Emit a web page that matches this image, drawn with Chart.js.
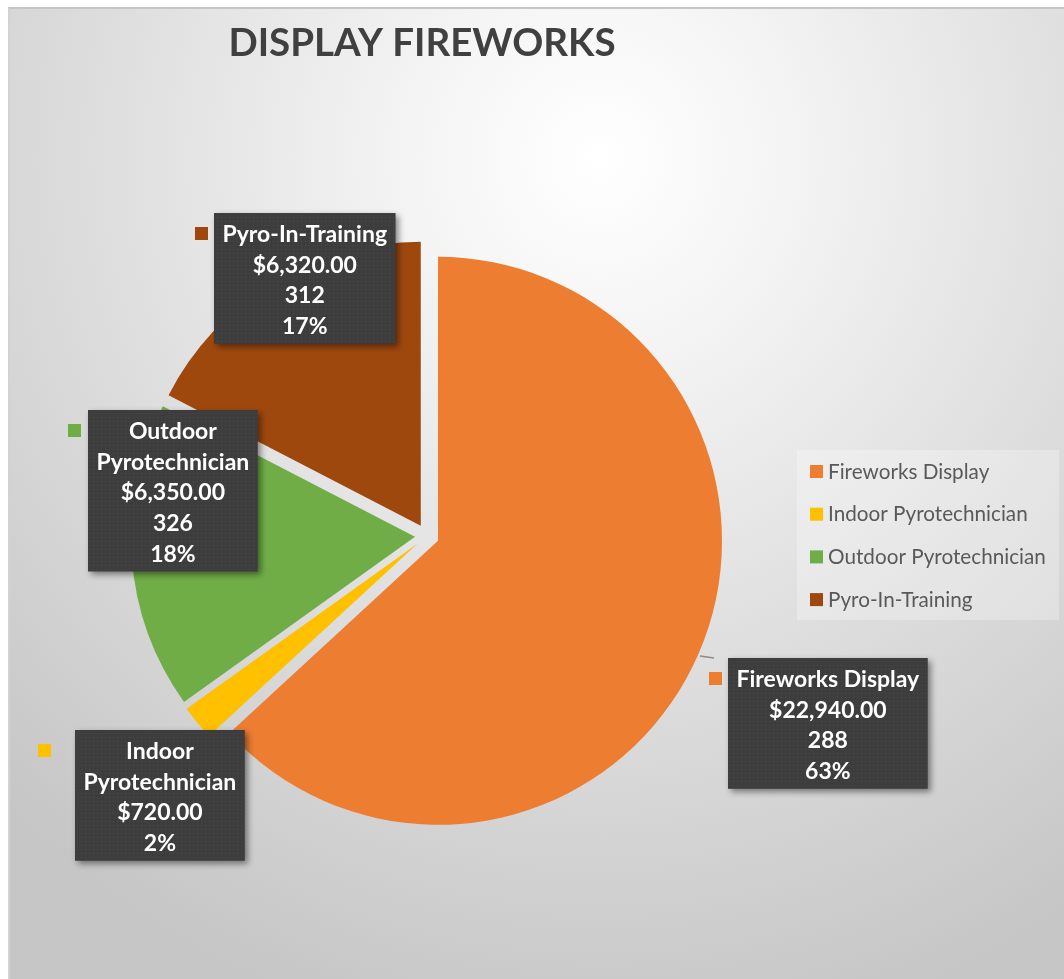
<!DOCTYPE html>
<html>
<head>
<meta charset="utf-8">
<script src="https://cdn.jsdelivr.net/npm/chart.js@4.4.0/dist/chart.umd.min.js"></script>
<style>
  html, body { margin: 0; padding: 0; background: #ffffff; width: 1064px; height: 979px; overflow: hidden; }
  #frame {
    position: absolute; left: 8px; top: 7px; width: 1070px; height: 990px;
    border-left: 2px solid #d2d2d2; border-top: 2px solid #c6c6c6;
    background: radial-gradient(ellipse 80% 90% at 55% 15%, #ffffff 0%, #f4f4f4 22%, #dedede 58%, #c6c6c6 100%);
  }
  #chart { position: absolute; left: 0; top: 0; }
</style>
</head>
<body>
<div id="frame"></div>
<canvas id="chart" width="1064" height="979"></canvas>
<script>
const titleText = 'DISPLAY FIREWORKS';
const categories = ['Fireworks Display', 'Indoor Pyrotechnician', 'Outdoor Pyrotechnician', 'Pyro-In-Training'];
const amounts = [22940, 720, 6350, 6320];
const counts = [288, null, 326, 312];   // the Indoor label shows no count
const colors = ['#ED7D31', '#FFC000', '#70AD47', '#9E480E'];

const EXPLODE = 12;
// where each data label box sits, relative to the pie centre
const labelBoxes = [
  { dx: 301, dy: 122, key: 19, leader: true },
  { dx: -352, dy: 194, key: 37 },
  { dx: -339, dy: -126, key: 20 },
  { dx: -213, dy: -323, key: 19 }
];

function money(v) {
  return '$' + v.toLocaleString('en-US', { minimumFractionDigits: 2, maximumFractionDigits: 2 });
}

// whole percentages that add up to 100 (largest remainder)
function percents(vals) {
  const total = vals.reduce((a, b) => a + b, 0);
  const raw = vals.map(v => v / total * 100);
  const out = raw.map(Math.floor);
  let left = 100 - out.reduce((a, b) => a + b, 0);
  raw.map((r, i) => [r - Math.floor(r), i])
    .sort((a, b) => b[0] - a[0])
    .forEach(([, i]) => { if (left > 0) { out[i]++; left--; } });
  return out;
}

// pull every slice out a little along its bisector, like an exploded Excel pie
const explode = {
  id: 'explode',
  afterDatasetUpdate(chart, args) {
    const meta = chart.getDatasetMeta(args.index);
    meta.data.forEach(arc => {
      const mid = (arc.startAngle + arc.endAngle) / 2;
      arc.x += Math.cos(mid) * EXPLODE;
      arc.y += Math.sin(mid) * EXPLODE;
    });
  }
};

function dotPattern(ctx) {
  const c = document.createElement('canvas');
  c.width = 4; c.height = 4;
  const p = c.getContext('2d');
  p.fillStyle = '#3d3d3d';
  p.fillRect(0, 0, 4, 4);
  p.fillStyle = '#4a4a4a';
  p.fillRect(1, 1, 1, 1);
  return ctx.createPattern(c, 'repeat');
}

const overlay = {
  id: 'overlay',
  afterDraw(chart) {
    const ctx = chart.ctx;
    const area = chart.chartArea;
    const cx = (area.left + area.right) / 2;
    const cy = (area.top + area.bottom) / 2;
    const pct = percents(amounts);

    // title
    ctx.save();
    ctx.font = 'bold 38.5px Lato';
    ctx.fillStyle = '#404040';
    ctx.textAlign = 'center';
    ctx.textBaseline = 'alphabetic';
    ctx.fillText(titleText, cx - 5, 56);
    ctx.restore();

    // data labels
    const fill = dotPattern(ctx);
    const lineH = 30.7;
    categories.forEach((name, i) => {
      ctx.save();
      ctx.font = 'bold 23px Lato';
      let lines = ctx.measureText(name).width > 200 ? name.split(' ') : [name];
      lines.push(money(amounts[i]));
      if (counts[i] !== null) lines.push(String(counts[i]));
      lines.push(pct[i] + '%');

      const w = Math.max(...lines.map(t => ctx.measureText(t).width)) + 17;
      const h = lines.length * lineH + 8;
      const pos = labelBoxes[i];
      const left = cx + pos.dx, top = cy + pos.dy;

      ctx.shadowColor = 'rgba(0,0,0,0.45)';
      ctx.shadowBlur = 6;
      ctx.shadowOffsetX = 3;
      ctx.shadowOffsetY = 3;
      ctx.fillStyle = fill;
      ctx.fillRect(left, top, w, h);
      ctx.shadowColor = 'transparent';

      ctx.fillStyle = '#ffffff';
      ctx.textAlign = 'center';
      ctx.textBaseline = 'alphabetic';
      lines.forEach((t, j) => ctx.fillText(t, left + w / 2, top + 29 + j * lineH));

      // legend key in front of the label
      ctx.fillStyle = colors[i];
      ctx.fillRect(left - pos.key, top + 14, 13, 13);

      if (pos.leader) {
        ctx.strokeStyle = '#8c8c8c';
        ctx.lineWidth = 1.5;
        ctx.beginPath();
        ctx.moveTo(left - 28, top - 2);
        ctx.lineTo(left - 14, top);
        ctx.stroke();
      }
      ctx.restore();
    });

    // legend
    ctx.save();
    ctx.fillStyle = 'rgba(255,255,255,0.28)';
    ctx.fillRect(797, 450, 262, 170);
    ctx.font = '20.7px Lato';
    ctx.textAlign = 'left';
    ctx.textBaseline = 'middle';
    categories.forEach((name, i) => {
      const y = 471 + i * 42.7;
      ctx.fillStyle = colors[i];
      ctx.fillRect(810, y - 6, 13, 13);
      ctx.fillStyle = '#595959';
      ctx.fillText(name, 828, y + 1);
    });
    ctx.restore();
  }
};

function draw() {
  new Chart(document.getElementById('chart'), {
    type: 'pie',
    data: {
      labels: categories,
      datasets: [{
        data: amounts,
        backgroundColor: colors,
        borderWidth: 0,
        radius: 284
      }]
    },
    options: {
      responsive: false,
      animation: false,
      events: [],
      layout: { padding: { left: 100, right: 310, top: 236, bottom: 143 } },
      plugins: {
        legend: { display: false },
        title: { display: false },
        tooltip: { enabled: false }
      }
    },
    plugins: [explode, overlay]
  });
}

Promise.all([
  document.fonts.load('bold 38.5px Lato'),
  document.fonts.load('bold 23px Lato'),
  document.fonts.load('20.7px Lato')
]).then(draw, draw);
</script>
</body>
</html>
